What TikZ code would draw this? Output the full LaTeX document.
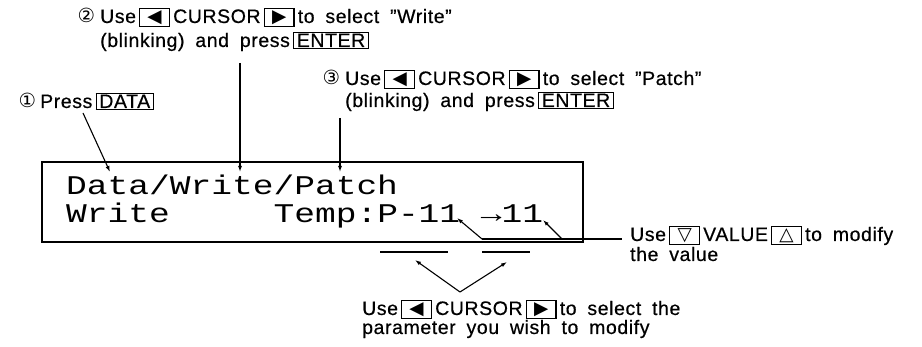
\documentclass[tikz,border=0pt]{standalone}
\usepackage{graphicx}
\usepackage{fontspec}
\setmainfont{Liberation Sans}[WordSpace=1.8, LetterSpace=3, FakeBold=0.5]
\newfontfamily\lcdfont{Liberation Mono}
\newfontfamily\symfont{DejaVu Sans}
\usetikzlibrary{arrows.meta,positioning,calc}

% key caps as printed on the panel
\newcommand{\keybox}[1]{{\setlength{\fboxsep}{0.8pt}\setlength{\fboxrule}{1.1pt}\fbox{\kern1.8pt\vphantom{E}#1\kern1.8pt}}}
\newcommand{\trikey}[1]{\keybox{\kern4.5pt{\symfont\scalebox{0.95}{#1}}\kern4.5pt}}

\tikzset{
  lbl/.style={anchor=base west, inner sep=0pt, font=\fontsize{19.5}{22}\selectfont},
  lcdtxt/.style={anchor=base west, inner sep=0pt, font=\fontsize{27}{30}\lcdfont},
  lcdbox/.style={draw, line width=1.6pt, minimum width=541pt, minimum height=80pt, inner sep=0pt},
  ptr/.style={-{Latex[length=6pt,width=4pt]}, line width=1.1pt},
  bar/.style={line width=1.1pt}
}

\begin{document}
\begin{tikzpicture}[x=1pt,y=-1pt]
\useasboundingbox (0,0) rectangle (922,347);
% LCD window
\node[lcdbox] (lcd) at (312.5,202) {};
\node[lcdtxt] (row1) at (66,195) {\scalebox{1.28}[1]{Data/Write/Patch}};
\node[lcdtxt] (row2) at (66,223) {\scalebox{1.28}[1]{Write~~~~~Temp:P-11~→11}};
% steps 1 to 3
\node[lbl] (lbl1) at (40,108) {\llap{{\symfont ①}\kern4pt}Press\,\keybox{DATA}};
\node[lbl] (lbl2a) at (100,23) {\llap{{\symfont ②}\kern5pt}Use\,\trikey{◀}\,CURSOR\,\trikey{▶}\,to select "Write"};
\node[lbl] (lbl2b) at (100,47) {(blinking) and press\,\keybox{ENTER}};
\node[lbl] (lbl3a) at (345,85) {\llap{{\symfont ③}\kern5pt}Use\,\trikey{◀}\,CURSOR\,\trikey{▶}\,to select "Patch"};
\node[lbl] (lbl3b) at (345,107) {(blinking) and press\,\keybox{ENTER}};
% value and cursor notes
\node[lbl] (lblval) at (630,241) {Use\,\trikey{▽}\,VALUE\,\trikey{△}\,to modify};
\node[lbl] (lblval2) at (630,261) {the value};
\node[lbl] (lblcur) at (362,315) {Use\,\trikey{◀}\,CURSOR\,\trikey{▶}\,to select the};
\node[lbl] (lblcur2) at (362,334) {parameter you wish to modify};
% pointers into the display
\coordinate (c1) at (83,113);  \coordinate (t1) at (110,172);
\coordinate (c2) at (240,63);  \coordinate (t2) at (240,172);
\coordinate (c3) at (340,118); \coordinate (t3) at (340,172);
\draw[ptr] (c1) -- (t1);
\draw[ptr] (c2) -- (t2);
\draw[ptr] (c3) -- (t3);
% value pointers
\coordinate (k1) at (482,239); \coordinate (v1) at (457,218);
\coordinate (k2) at (562,239); \coordinate (v2) at (543,220);
\draw[bar] (k1) -- ($(lblval.base west)+(-8,-2)$);
\draw[ptr] (k1) -- (v1);
\draw[ptr] (k2) -- (v2);
% cursor marks
\draw[bar] (380,252) -- (448,252);
\draw[bar] (482,252) -- (530,252);
\coordinate (vb) at (460,292); \coordinate (u1) at (415,260); \coordinate (u2) at (507,262);
\draw[ptr] (vb) -- (u1);
\draw[ptr] (vb) -- (u2);
\end{tikzpicture}
\end{document}
